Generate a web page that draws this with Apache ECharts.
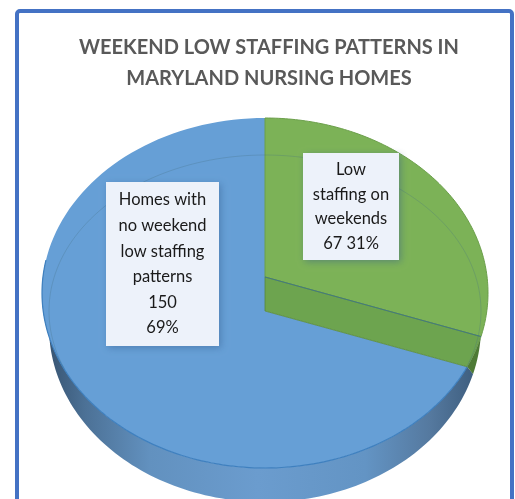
<!DOCTYPE html>
<html>
<head>
<meta charset="utf-8">
<style>html,body{margin:0;padding:0;background:#fff;overflow:hidden}#c{width:515px;height:499px}</style>
<script src="https://cdn.jsdelivr.net/npm/echarts@6/dist/echarts.min.js"></script>
</head>
<body>
<div id="c"></div>
<script>
var titleLines = ['WEEKEND LOW STAFFING PATTERNS IN', 'MARYLAND NURSING HOMES'];
var categories = ['Low staffing on weekends', 'Homes with no weekend low staffing patterns'];
var values = [67, 150];
var labelNames = ['Low\nstaffing on\nweekends', 'Homes with\nno weekend\nlow staffing\npatterns'];
var labelJoin = [' ', '\n'];
var colors = ['#7CB257', '#669FD6'];

var total = values.reduce(function (a, b) { return a + b; }, 0);
var FONT = 'Lato, "Open Sans", sans-serif';
var CX = 265;
var face = { cy: 293, rx: 223, ry: 175 };       // visible rim of the tilted pie
var inner = { cy: 311, rx: 216, ry: 156 };      // faint bevel ellipse
var base = { cy: 327, rx: 216, ry: 175 };       // underside of the pie
var apexTop = 277, apexLow = 311, apexRy = 159;
var boxes = [
  { x: 303, y: 153, w: 96, h: 107, lh: 24.5 },
  { x: 106, y: 182, w: 113, h: 164, lh: 25.6 }
];

function onEllipse(e, t) {
  return [CX + e.rx * Math.sin(t), e.cy - e.ry * Math.cos(t)];
}
function arc(e, a, b) {
  var pts = [], n = 120;
  for (var i = 0; i <= n; i++) pts.push(onEllipse(e, a + (b - a) * i / n));
  return pts;
}
// where a slice edge leaving the apex meets the visible rim, as an ellipse angle
function rimAngle(theta, apexY) {
  var dx = face.rx * Math.sin(theta), dy = -apexRy * Math.cos(theta), oy = apexY - face.cy;
  var A = dx * dx / (face.rx * face.rx) + dy * dy / (face.ry * face.ry);
  var B = 2 * oy * dy / (face.ry * face.ry);
  var C = oy * oy / (face.ry * face.ry) - 1;
  var s = (-B + Math.sqrt(B * B - 4 * A * C)) / (2 * A);
  var a = Math.atan2((s * dx) / face.rx, -(oy + s * dy) / face.ry);
  return a < 0 ? a + Math.PI * 2 : a;
}
function baseAngleAtY(y) { return Math.PI - Math.acos((y - base.cy) / base.ry) ; }

function renderItem(params, api) {
  var i = params.dataIndex, v = api.value(0), before = 0;
  for (var k = 0; k < i; k++) before += values[k];
  var a0 = before / total * Math.PI * 2, a1 = (before + v) / total * Math.PI * 2;
  var kids = [];
  if (i === 0) {
    var rimHigh = rimAngle(a1, apexTop), rimLow = rimAngle(a1, apexLow);
    var lowPt = onEllipse(face, rimLow);
    kids.push({ type: 'polygon', z2: 30,
      shape: { points: [[CX, apexTop]].concat(arc(face, a0, rimHigh)) },
      style: { fill: colors[0], stroke: '#6B9F4A', lineWidth: 1 } });
    kids.push({ type: 'polygon', z2: 31,
      shape: { points: [[CX, apexTop]].concat(arc(face, rimHigh, rimLow)).concat([[CX, apexLow]]) },
      style: { fill: '#6DA44F', stroke: 'rgba(85,135,60,0.8)', lineWidth: 1 } });
    kids.push({ type: 'line', z2: 32,
      shape: { x1: CX, y1: apexTop, x2: onEllipse(face, rimHigh)[0], y2: onEllipse(face, rimHigh)[1] },
      style: { stroke: 'rgba(60,115,150,0.75)', lineWidth: 1 } });
    // sliver of the green wall on the right
    var sliver = arc(face, rimHigh, rimLow);
    sliver = sliver.concat([[473, 374]]);
    var t0 = baseAngleAtY(374), t1 = baseAngleAtY(338);
    sliver = sliver.concat(arc(base, t0, t1));
    kids.push({ type: 'polygon', z2: 29, shape: { points: sliver },
      style: { fill: '#4E7A36', stroke: null } });
  } else {
    var rim = rimAngle(a0, apexLow);
    kids.push({ type: 'polygon', z2: 5,
      shape: { points: arc(base, baseAngleAtY(374), Math.PI * 1.56).concat(arc(face, Math.PI * 1.56, rim)) },
      style: {
        fill: new echarts.graphic.LinearGradient(0, 0, 1, 0, [
          { offset: 0, color: '#34506C' },
          { offset: 0.1, color: '#4C7196' },
          { offset: 0.25, color: '#6291BF' },
          { offset: 0.5, color: '#6B9CCE' },
          { offset: 0.75, color: '#6394C4' },
          { offset: 0.9, color: '#55799F' },
          { offset: 1, color: '#3F5F80' }
        ])
      } });
    kids.push({ type: 'polygon', z2: 10,
      shape: { points: [[CX, apexLow]].concat(arc(face, rim, Math.PI * 2)) },
      style: { fill: colors[1], stroke: null } });
    kids.push({ type: 'polyline', z2: 11,
      shape: { points: arc(face, rim, Math.PI * 1.56) },
      style: { stroke: '#3F80BF', lineWidth: 1.2, fill: null } });
    kids.push({ type: 'polyline', z2: 40,
      shape: { points: arc(inner, -Math.PI * 0.62, Math.PI * 0.62) },
      style: { stroke: 'rgba(70,110,130,0.28)', lineWidth: 1, fill: null } });
  }
  var b = boxes[i];
  var pct = Math.round(v / total * 100) + '%';
  kids.push({ type: 'rect', z2: 50, shape: { x: b.x, y: b.y, width: b.w, height: b.h },
    style: { fill: '#EDF2FA', shadowBlur: 7, shadowOffsetX: 2, shadowOffsetY: 2, shadowColor: 'rgba(50,90,140,0.45)' } });
  kids.push({ type: 'text', z2: 51,
    style: {
      x: b.x + b.w / 2, y: b.y + b.h / 2, align: 'center', verticalAlign: 'middle',
      text: labelNames[i] + '\n' + (i === 0 ? v + labelJoin[i] + pct : v + labelJoin[i] + pct),
      fill: '#1a1a1a', font: '16.5px ' + FONT, lineHeight: b.lh
    } });
  return { type: 'group', children: kids };
}

var chart = echarts.init(document.getElementById('c'), null, { renderer: 'canvas' });
chart.setOption({
  animation: false,
  backgroundColor: '#ffffff',
  title: {
    text: titleLines.join('\n'), left: 264, top: 27, textAlign: 'center',
    textStyle: { color: '#595959', fontFamily: FONT, fontWeight: 'bold', fontSize: 20, lineHeight: 31 }
  },
  graphic: [{ type: 'rect', silent: true, z: 100,
    shape: { x: 17, y: 11, width: 495, height: 540, r: 3 },
    style: { fill: null, stroke: '#4472C4', lineWidth: 4 } }],
  series: [{
    type: 'custom', coordinateSystem: 'none', renderItem: renderItem, silent: true,
    clip: false,
    data: values.map(function (v, i) { return { name: categories[i], value: [v] }; })
  }]
});
</script>
</body>
</html>
